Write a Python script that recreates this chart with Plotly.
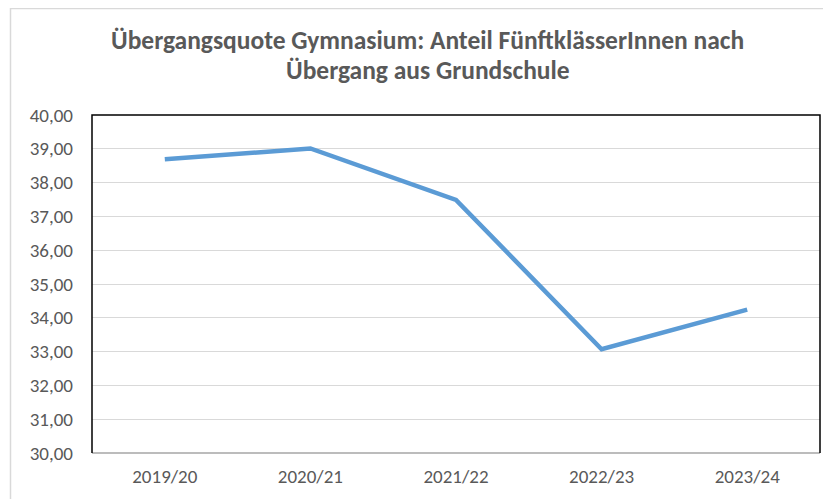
import plotly.graph_objects as go

categories = ["2019/20", "2020/21", "2021/22", "2022/23", "2023/24"]
values = [38.69, 39.01, 37.49, 33.07, 34.24]
y_ticks = [30, 31, 32, 33, 34, 35, 36, 37, 38, 39, 40]
y_tick_labels = ["30,00", "31,00", "32,00", "33,00", "34,00", "35,00", "36,00", "37,00", "38,00", "39,00", "40,00"]
title_lines = ["Übergangsquote Gymnasium: Anteil FünftklässerInnen nach",
               "Übergang aus Grundschule"]

# the page body has an 8px margin, so the figure is sized to fit the window
OFF = 8
W, H = 831 - OFF, 499 - OFF
L, R, T, B = 92 - OFF, 11, 115 - OFF, 46
pw, ph = W - L - R, H - T - B

def px(x):
    return (x - L) / pw

def py(y):
    return (H - B - y) / ph

font = "Carlito, Lato, 'Open Sans', sans-serif"

fig = go.Figure()
fig.add_trace(go.Scatter(
    x=categories, y=values, mode="lines",
    line=dict(color="#5B9BD5", width=4.5),
    hoverinfo="x+y",
))

title_y = [32, 62]
annotations = [
    dict(text="<b>" + t + "</b>", xref="paper", yref="paper",
         x=px(419.5), y=py(yy), xanchor="center", yanchor="middle",
         showarrow=False, font=dict(family=font, size=25.5, color="#595959"))
    for t, yy in zip(title_lines, title_y)
]

fig.update_layout(
    width=W, height=H,
    margin=dict(l=L, r=R, t=T, b=B),
    paper_bgcolor="white", plot_bgcolor="white",
    showlegend=False,
    annotations=annotations,
    font=dict(family=font, color="#595959"),
    xaxis=dict(type="category", range=[-0.5, 4.5], showgrid=False,
               showline=False, ticks="", ticklabelstandoff=10,
               tickfont=dict(size=19, color="#595959"),
               fixedrange=True),
    yaxis=dict(range=[30, 40], tickvals=y_ticks, ticktext=y_tick_labels,
               showgrid=True, gridcolor="#D9D9D9", gridwidth=1.3,
               zeroline=False, showline=False, ticks="", ticklabelstandoff=18,
               tickfont=dict(size=19, color="#595959"), fixedrange=True),
    shapes=[
        # outer chart border
        dict(type="rect", xref="paper", yref="paper",
             x0=px(2.5), x1=px(W + 20), y0=py(H + 20), y1=py(0.5),
             line=dict(color="#D9D9D9", width=1.5), fillcolor="rgba(0,0,0,0)", layer="below"),
        # bottom axis line (gray)
        dict(type="line", xref="paper", yref="paper", x0=0, x1=1, y0=0, y1=0,
             line=dict(color="#A6A6A6", width=1.5)),
        # left, top, right black border
        dict(type="path", xref="paper", yref="paper",
             path="M 0 0 L 0 1 L 1 1 L 1 0",
             line=dict(color="#000000", width=1.5)),
    ],
)

fig.write_html("out.html")
